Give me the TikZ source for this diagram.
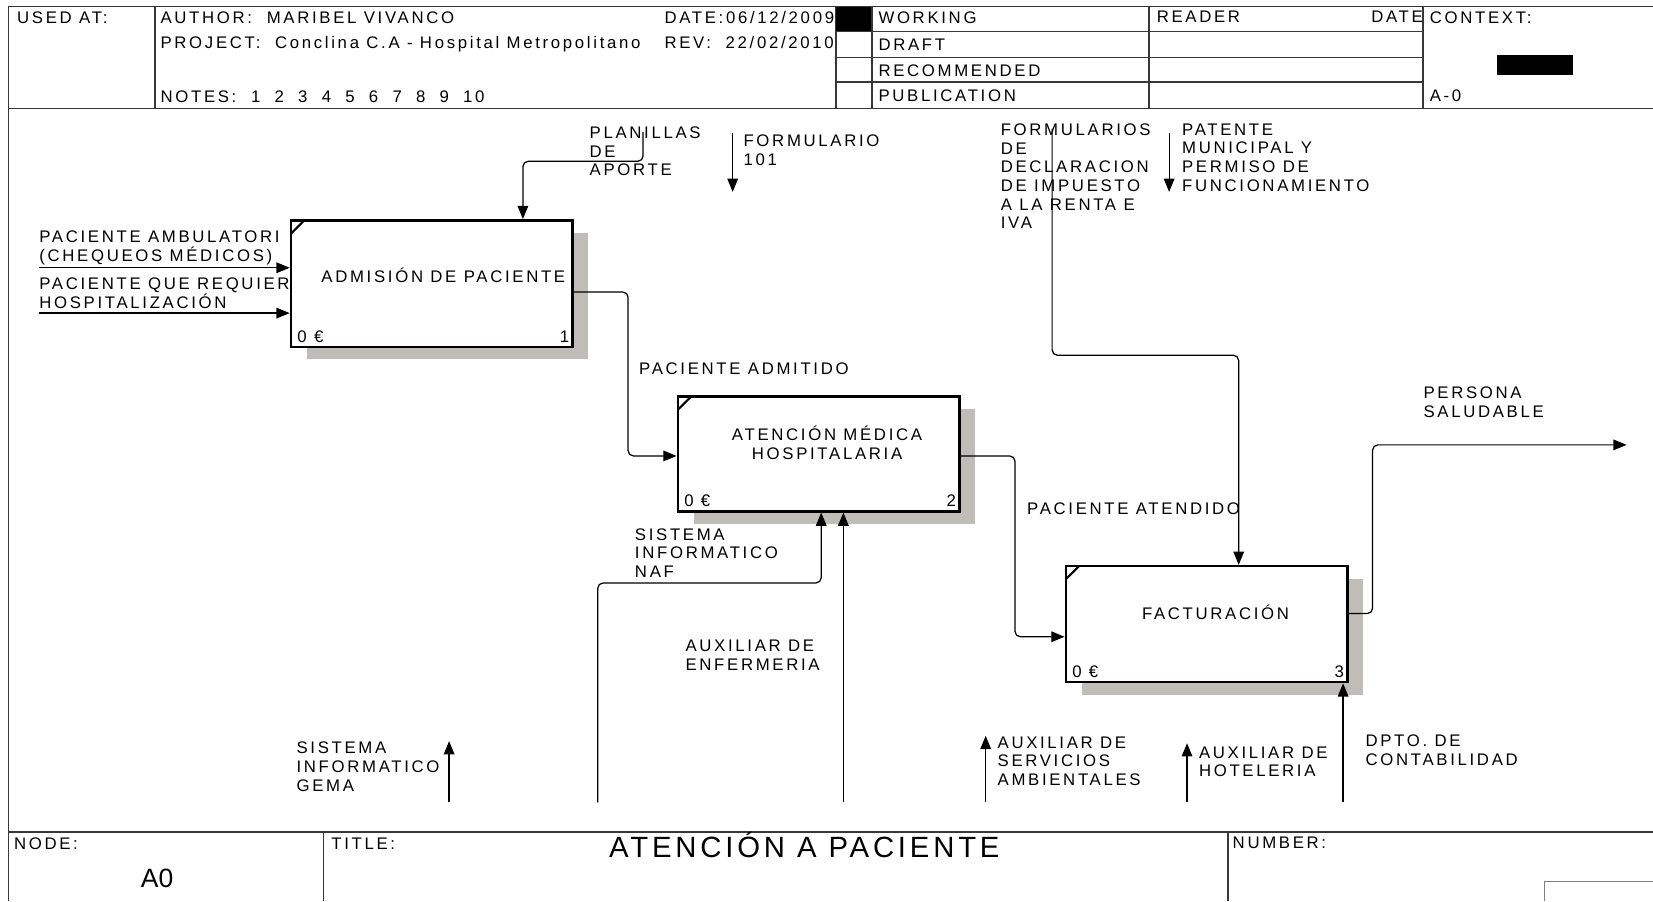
\documentclass[tikz,border=0pt]{standalone}
\usepackage{fontspec}
\setmainfont{Liberation Sans}[LetterSpace=16]
\newfontfamily\titlefont{Liberation Sans}[LetterSpace=13]
\newfontfamily\plainfont{Liberation Sans}
\newcommand\nsp{\hspace{0.85em}}
\usetikzlibrary{arrows.meta,calc,shadows}
\definecolor{shadowgray}{RGB}{192,188,183}
\definecolor{framegray}{RGB}{55,55,55}

\begin{document}
\begin{tikzpicture}[x=0.021cm,y=-0.021cm,
    lbl/.style={inner sep=0pt,anchor=north west,align=left,font=\fontsize{9.5}{10.6}\selectfont},
    box/.style={draw,line width=1.4pt,fill=white,inner sep=0pt,minimum width=5.607cm,
      drop shadow={shadow xshift=0.315cm,shadow yshift=-0.25cm,opacity=1,fill=shadowgray}},
    flow/.style={line width=0.7pt,rounded corners=3pt,-{Triangle[length=7.5pt,width=6pt]}},
    frame/.style={line width=0.9pt,framegray}]
  \useasboundingbox (0,0) rectangle (1568,855);

  % frame and header
  \draw[frame] (8,855) -- (8,6) -- (1568,6);
  \draw[frame] (8,103) -- (1568,103);
  \draw[frame] (147,6) -- (147,103);
  \draw[frame] (793,6) -- (793,103);
  \draw[frame] (827,6) -- (827,103);
  \draw[frame] (1090,6) -- (1090,103);
  \draw[frame] (1350,6) -- (1350,103);
  \foreach \y in {30,54.5,78}
    \draw[frame] (793,\y) -- (1350,\y);
  \node[lbl] (usedat) at (16,10.5) {USED AT:};
  \node[lbl] (author) at (152,10.5) {AUTHOR:~ MARIBEL VIVANCO};
  \node[lbl] (date) at (630,10.5) {DATE:06/12/2009};
  \node[lbl] (project) at (152,34.5) {PROJECT:~ Conclina C.A - Hospital Metropolitano};
  \node[lbl] (rev) at (630,34.5) {REV:~ 22/02/2010};
  \node[lbl] (notes) at (152,85.5) {NOTES:~ 1\nsp 2\nsp 3\nsp 4\nsp 5\nsp 6\nsp 7\nsp 8\nsp 9\nsp 10};
  \node[lbl] (working) at (833,10.5) {WORKING};
  \node[lbl] (draft) at (833,36.5) {DRAFT};
  \node[lbl] (recom) at (833,61) {RECOMMENDED};
  \node[lbl] (public) at (833,84.5) {PUBLICATION};
  \node[lbl] (reader) at (1097,10.5) {READER};
  \node[lbl,anchor=north east] (rdate) at (1350,10.5) {DATE};
  \node[lbl] (context) at (1356,10.5) {CONTEXT:};
  \node[lbl] (anode) at (1356,84.5) {A-0};
  \fill (793,7) rectangle (826,29);
  \fill (1420,52) rectangle (1492,71);

  % footer
  \draw[frame,line width=1.3pt] (8,789) -- (1568,789);
  \draw[frame] (307,789) -- (307,855);
  \draw[frame] (1165,789) -- (1165,855);
  \draw[frame,gray] (1465,855) -- (1465,836) -- (1568,836);
  \node[lbl] (nodelbl) at (13,794.5) {NODE:};
  \node[inner sep=0pt,font=\plainfont\fontsize{15}{18}\selectfont] (nodeid) at (149,833) {A0};
  \node[lbl] (titlelbl) at (314,794.5) {TITLE:};
  \node[inner sep=0pt,anchor=base,font=\titlefont\fontsize{16.6}{20}\selectfont] (title) at (763,813) {ATENCIÓN A PACIENTE};
  \node[lbl] (numberlbl) at (1169,794) {NUMBER:};

  % inputs of box 1 (the box hides their ends)
  \node[lbl] (pamlbl) at (37,218.5) {PACIENTE AMBULATORI\\(CHEQUEOS MÉDICOS)};
  \node[lbl] (phslbl) at (37,263) {PACIENTE QUE REQUIER\\HOSPITALIZACIÓN};

  % activities
  \node[box,minimum height=2.52cm] (b1) at (409.5,269) {};
  \node[box,minimum height=2.289cm] (b2) at (776.5,430.5) {};
  \node[box,minimum height=2.31cm] (b3) at (1144.5,592) {};
  \node[lbl,anchor=base] (b1t) at ($(b1.center)+(11,-1)$) {ADMISIÓN DE PACIENTE};
  \node[lbl,anchor=center,align=center] (b2t) at ($(b2.center)+(8,-10.5)$) {ATENCIÓN MÉDICA\\HOSPITALARIA};
  \node[lbl,anchor=base] (b3t) at ($(b3.center)+(8.5,-4.6)$) {FACTURACIÓN};
  \foreach \b/\n in {b1/1,b2/2,b3/3} {
    \draw[line width=1.2pt] ($(\b.north west)+(1,14)$) -- ($(\b.north west)+(14,1)$);
    \node[lbl,anchor=south west] (\b cost) at ($(\b.south west)+(7,-5)$) {0 €};
    \node[lbl,anchor=south east] (\b num) at ($(\b.south east)+(-4,-5)$) {\n};
  }

  % labels
  \node[lbl] (plalbl) at (559,120) {PLANILLAS\\DE\\APORTE};
  \node[lbl] (f101lbl) at (705,128) {FORMULARIO\\101};
  \node[lbl] (fdilbl) at (949,117) {FORMULARIOS\\DE\\DECLARACION\\DE IMPUESTO\\A LA RENTA E\\IVA};
  \node[lbl] (patlbl) at (1121,117) {PATENTE\\MUNICIPAL Y\\PERMISO DE\\FUNCIONAMIENTO};
  \node[lbl] (admlbl) at (606,343.5) {PACIENTE ADMITIDO};
  \node[lbl] (atelbl) at (974,477) {PACIENTE ATENDIDO};
  \node[lbl] (sallbl) at (1350,366.5) {PERSONA\\SALUDABLE};
  \node[lbl] (naflbl) at (602,501) {SISTEMA\\INFORMATICO\\NAF};
  \node[lbl] (enflbl) at (650,607) {AUXILIAR DE\\ENFERMERIA};
  \node[lbl] (gemlbl) at (281,703.5) {SISTEMA\\INFORMATICO\\GEMA};
  \node[lbl] (amblbl) at (946,698.5) {AUXILIAR DE\\SERVICIOS\\AMBIENTALES};
  \node[lbl] (hotlbl) at (1137,708) {AUXILIAR DE\\HOTELERIA};
  \node[lbl] (conlbl) at (1295,696.5) {DPTO. DE\\CONTABILIDAD};

  % free ends
  \coordinate (pamS) at (37,254);
  \coordinate (phsS) at (37,297);
  \coordinate (plaS) at (610,125);
  \coordinate (plaT) at (496,153);
  \coordinate (f101S) at (695,126);
  \coordinate (f101E) at (695,182);
  \coordinate (fdiS) at (998,122);
  \coordinate (fdiT) at (1175,337);
  \coordinate (patS) at (1109,126);
  \coordinate (patE) at (1109,182);
  \coordinate (salT) at (1302,422);
  \coordinate (salE) at (1543,422);
  \coordinate (nafS) at (567,761);
  \coordinate (nafT) at (779,553);
  \coordinate (enfS) at (800,761);
  \coordinate (gemS) at (426,761);
  \coordinate (gemE) at (426,703);
  \coordinate (ambS) at (935,761);
  \coordinate (ambE) at (935,698);
  \coordinate (hotS) at (1126,761);
  \coordinate (hotE) at (1126,705);
  \coordinate (conS) at (1274,761);

  % connectors
  \draw[flow] (pamS) -- (pamS -| b1.west);
  \draw[flow] (phsS) -- (phsS -| b1.west);
  \draw[flow] (plaS) |- (plaT) -- (plaT |- b1.north);
  \draw[flow] (f101S) -- (f101E);
  \draw[flow] (fdiS) |- (fdiT) -- (fdiT |- b3.north);
  \draw[flow] (patS) -- (patE);
  \draw[flow] ($(b1.east)+(0,8)$) -| ($(b2.west)+(-46,2)$) -- ($(b2.west)+(0,2)$);
  \draw[flow] ($(b2.east)+(0,2)$) -| ($(b3.west)+(-47,12)$) -- ($(b3.west)+(0,12)$);
  \draw[flow] ($(b3.east)+(0,-10)$) -| (salT) -- (salE);
  \draw[flow] (nafS) |- (nafT) -- (nafT |- b2.south);
  \draw[flow] (enfS) -- (enfS |- b2.south);
  \draw[flow] (gemS) -- (gemE);
  \draw[flow] (ambS) -- (ambE);
  \draw[flow] (hotS) -- (hotE);
  \draw[flow] (conS) -- (conS |- b3.south);
\end{tikzpicture}
\end{document}
